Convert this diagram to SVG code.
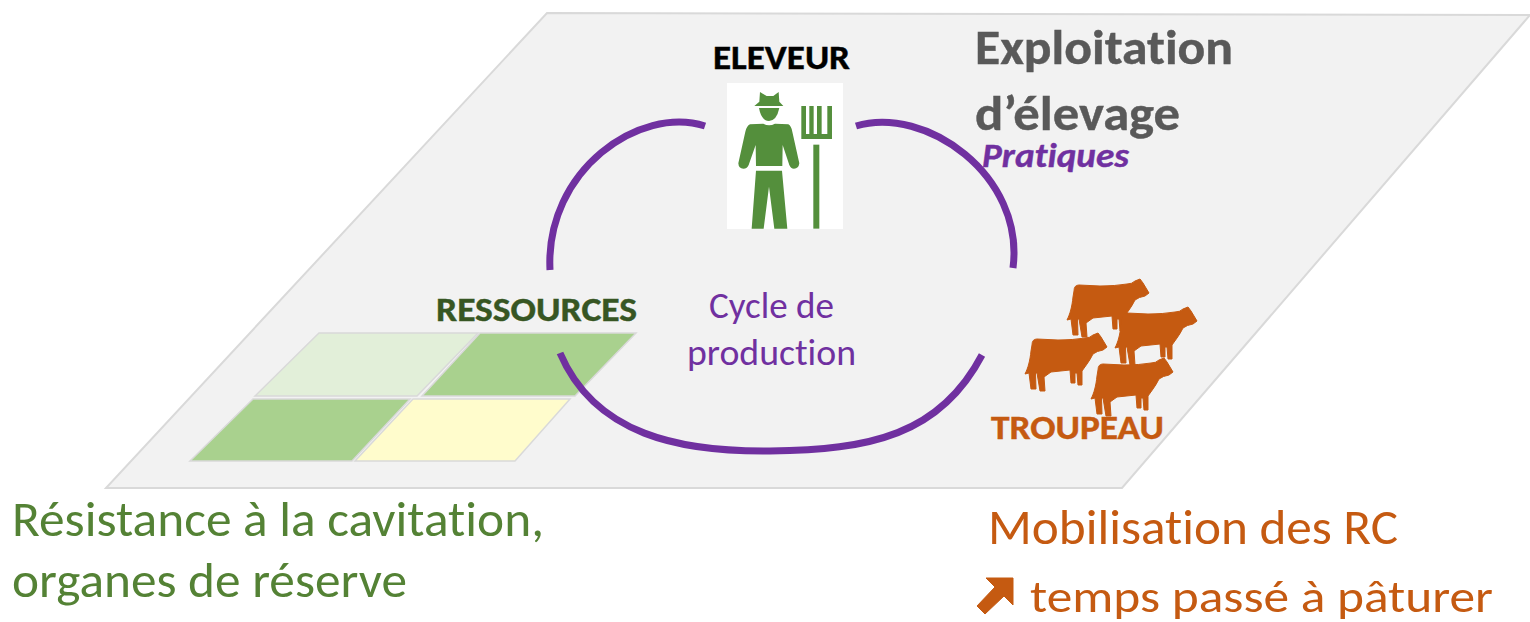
<svg xmlns="http://www.w3.org/2000/svg" xmlns:xlink="http://www.w3.org/1999/xlink" width="1530" height="622" viewBox="0 0 1530 622">
<style>
text{font-family:Carlito,Lato,"Open Sans","Liberation Sans",sans-serif;font-variant-ligatures:none}
.b{font-weight:700;stroke-width:.4}
.cycle{fill:none;stroke:#7030a0;stroke-width:7;stroke-linecap:butt}
.cow{fill:#c55a11;stroke:#c55a11;stroke-width:1;stroke-linejoin:round}
.farm{fill:#548f3c}
.pur{fill:#7030a0}
.org{fill:#c55a11}
.grn{fill:#548235}
.field{stroke:#d9d9d9;stroke-width:1.5}
</style>
<defs>
<path id="cowshape" d="M0 41 C3 35 5 28 6 18 L7 12 Q7 6 12 6 L33 7 Q48 7 60 5 Q65 5 68 2 L73 0 L76 4 L82 14 L78 17 Q72 18 68 21 Q65 27 62 31 L57 38 L57 52 L53 52 L52 40 L50 40 L50 50 L46 50 L45 37 L26 39 L19 44 L20 58 L15 58 L12 40 L10.5 40 L11 56 L6 56 L4 40 Z"/>
</defs>
<rect width="1530" height="622" fill="#fff"/>
<g id="exploitation">
<polygon points="547,13 1530,15 1122,488 106,488" fill="#f2f2f2" stroke="#d9d9d9" stroke-width="2"/>
<text x="975" y="64" font-size="48" class="b" fill="#595959" stroke="#595959" textLength="258" lengthAdjust="spacingAndGlyphs">Exploitation</text>
<text x="975" y="130" font-size="48" class="b" fill="#595959" stroke="#595959" textLength="205" lengthAdjust="spacingAndGlyphs">d’élevage</text>
</g>
<g id="ressources">
<polygon class="field" points="319,333 478,333 417,396 255,396" fill="#e2efd9"/>
<polygon class="field" points="480,333 636,333 575,396 422,396" fill="#a9d18e"/>
<polygon class="field" points="253,399 410,399 352,461 190,461" fill="#a9d18e"/>
<polygon class="field" points="413,399 570,399 515,461 355,461" fill="#fffccc"/>
<text x="436" y="321" font-size="34" class="b" fill="#375623" stroke="#375623" textLength="201" lengthAdjust="spacingAndGlyphs">RESSOURCES</text>
</g>
<g id="connectors">
<path class="cycle" d="M705 126 C640 105 545 170 550 270"/>
<path class="cycle" d="M856 126 C925 105 1025 175 1013 268"/>
<path class="cycle" d="M560 353 C595 435 680 452 770 451 C870 450 940 435 982 355"/>
</g>
<g id="eleveur">
<text x="713" y="69" font-size="34" class="b" fill="#000" stroke="#000" textLength="137" lengthAdjust="spacingAndGlyphs">ELEVEUR</text>
<rect x="727" y="83" width="116" height="146" fill="#fff"/>
<g transform="translate(700 30) scale(.3333)" class="farm">
<path d="M180 186 L200 198 L220 198 L236 186 L238 215 L250 228 L163 228 L178 215 Z"/>
<path d="M177 234 L238 234 Q230 272 207 273 Q184 272 177 234 Z"/>
<path d="M150 283 L190 281 Q207 290 225 281 L265 283 Q274 288 277 305 L298 400 Q296 416 282 416 Q272 416 268 405 L248 345 L247 408 L168 408 L167 345 L146 405 Q142 416 130 416 Q116 416 115 400 L136 305 Q140 288 150 283 Z"/>
<path d="M168 422 L246 422 L262 596 L223 596 L207 470 L191 596 L155 596 Z"/>
<path d="M304 228 L318 228 L318 312 L328 312 L328 228 L341 228 L341 312 L351 312 L351 228 L365 228 L365 312 L382 312 L382 228 L396 228 L396 327 L304 327 Z"/>
<rect x="340" y="344" width="18" height="252"/>
</g>
</g>
<g id="pratiques"><text x="982" y="167" font-size="34" class="b pur" stroke="#7030a0" font-style="italic" textLength="147" lengthAdjust="spacingAndGlyphs">Pratiques</text></g>
<g id="cycle">
<text x="709" y="318" font-size="36" class="pur" textLength="125" lengthAdjust="spacingAndGlyphs">Cycle de</text>
<text x="687" y="365" font-size="36" class="pur" textLength="169" lengthAdjust="spacingAndGlyphs">production</text>
</g>
<g id="troupeau">
<use xlink:href="#cowshape" href="#cowshape" class="cow" x="1067" y="279"/>
<use xlink:href="#cowshape" href="#cowshape" class="cow" x="1115" y="307"/>
<use xlink:href="#cowshape" href="#cowshape" class="cow" x="1025" y="333"/>
<use xlink:href="#cowshape" href="#cowshape" class="cow" x="1091" y="358"/>
<text x="991" y="439" font-size="34" class="b org" stroke="#c55a11" textLength="173" lengthAdjust="spacingAndGlyphs">TROUPEAU</text>
</g>
<g id="label-ressources">
<text x="12" y="536" font-size="50" class="grn" textLength="532" lengthAdjust="spacingAndGlyphs">Résistance à la cavitation,</text>
<text x="12" y="597" font-size="50" class="grn" textLength="395" lengthAdjust="spacingAndGlyphs">organes de réserve</text>
</g>
<g id="label-troupeau">
<text x="988" y="544" font-size="50" class="org" textLength="410" lengthAdjust="spacingAndGlyphs">Mobilisation des RC</text>
<polygon class="org" stroke="#c55a11" points="986,578 1013,578 1013,605 1004,596 985,614 977,606 995,587"/>
<text x="1030" y="612" font-size="46" class="org" textLength="463" lengthAdjust="spacingAndGlyphs">temps passé à pâturer</text>
</g>
</svg>
